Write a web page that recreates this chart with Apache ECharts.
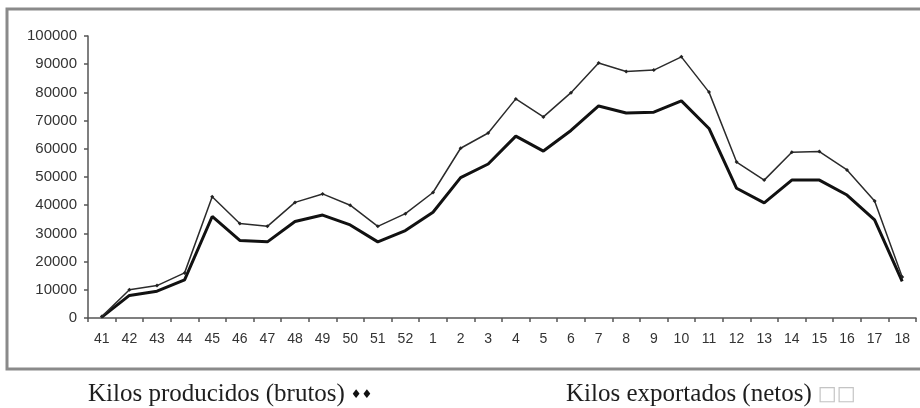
<!DOCTYPE html>
<html>
<head>
<meta charset="utf-8">
<script src="https://cdn.jsdelivr.net/npm/echarts@6/dist/echarts.min.js"></script>
<style>
  html, body { margin: 0; padding: 0; background: #ffffff; }
  #chart { width: 920px; height: 408px; }
</style>
</head>
<body>
<div id="chart"></div>
<script>
// Weeks: 41–52 of one year, then 1–18 of the next
const weeks = ['41','42','43','44','45','46','47','48','49','50','51','52',
  '1','2','3','4','5','6','7','8','9','10','11','12','13','14','15','16','17','18'];

// Gross kilos produced per week
const producidos = [500, 10000, 11500, 16000, 43000, 33500, 32500, 41000, 44000, 40000, 32500, 37000,
  44500, 60200, 65600, 77700, 71300, 79900, 90400, 87400, 87900, 92600, 80100, 55300, 48900, 58800, 59000, 52500, 41500, 14500];

// Net kilos exported per week
const exportados = [300, 8000, 9500, 13500, 36000, 27500, 27000, 34200, 36500, 33000, 27000, 31000,
  37500, 49800, 54600, 64500, 59200, 66500, 75200, 72700, 73000, 77000, 67200, 46000, 40800, 48900, 48900, 43600, 34800, 13000];

// Value-axis range
const yMin = 0;
const yMax = 100000;
const yStep = 10000;

const nameProd = 'Kilos producidos (brutos)';
const nameExp = 'Kilos exportados (netos)';

const chart = echarts.init(document.getElementById('chart'), null, { renderer: 'canvas' });

const legendBase = {
  orient: 'horizontal',
  icon: 'none',
  itemWidth: 0,
  itemHeight: 0,
  padding: 0,
  selectedMode: false,
  top: 382
};

chart.setOption({
  animation: false,
  backgroundColor: '#ffffff',
  graphic: [{
    type: 'rect',
    shape: { x: 7, y: 9, width: 940, height: 360 },
    style: { fill: 'none', stroke: '#8a8a8a', lineWidth: 3 },
    silent: true,
    z: -1
  }],
  legend: [
    Object.assign({}, legendBase, {
      left: 83,
      data: [nameProd],
      formatter: n => '{t|' + n + '}{m| ♦♦}',
      textStyle: {
        rich: {
          t: { fontFamily: 'Liberation Serif', fontSize: 25, color: '#1e1e1e' },
          m: { fontFamily: 'DejaVu Sans', fontSize: 12, color: '#111', padding: [0, 0, 0, 2] }
        }
      }
    }),
    Object.assign({}, legendBase, {
      left: 561,
      data: [nameExp],
      formatter: n => '{t|' + n + '}{m|□□}',
      textStyle: {
        rich: {
          t: { fontFamily: 'Liberation Serif', fontSize: 25, color: '#1e1e1e' },
          m: { fontFamily: 'DejaVu Sans', fontSize: 20, color: '#c4c4c4', padding: [0, 0, 0, 6] }
        }
      }
    })
  ],
  grid: { left: 88, right: 4, top: 36, bottom: 90, containLabel: false },
  xAxis: {
    type: 'category',
    data: weeks,
    boundaryGap: true,
    axisLine: { show: true, lineStyle: { color: '#555', width: 1.5 } },
    axisTick: { show: true, length: 4, inside: false, alignWithLabel: false, lineStyle: { color: '#555', width: 1.5 } },
    axisLabel: { margin: 14, fontFamily: 'Liberation Sans', fontSize: 14, color: '#333', interval: 0 },
    splitLine: { show: false }
  },
  yAxis: {
    type: 'value',
    min: yMin,
    max: yMax,
    interval: yStep,
    axisLine: { show: true, lineStyle: { color: '#555', width: 1.5 } },
    axisTick: { show: true, length: 4, inside: false, lineStyle: { color: '#555', width: 1.5 } },
    axisLabel: { margin: 11, fontFamily: 'Liberation Sans', fontSize: 15, color: '#333', formatter: v => String(v) },
    splitLine: { show: false }
  },
  series: [
    {
      name: nameProd,
      type: 'line',
      data: producidos,
      symbol: 'diamond',
      symbolSize: 4,
      showSymbol: true,
      lineStyle: { color: '#2b2b2b', width: 1.5 },
      itemStyle: { color: '#222' },
      z: 3
    },
    {
      name: nameExp,
      type: 'line',
      data: exportados,
      symbol: 'none',
      lineStyle: { color: '#111', width: 3 },
      itemStyle: { color: '#111' },
      z: 2
    }
  ]
});
</script>
</body>
</html>
